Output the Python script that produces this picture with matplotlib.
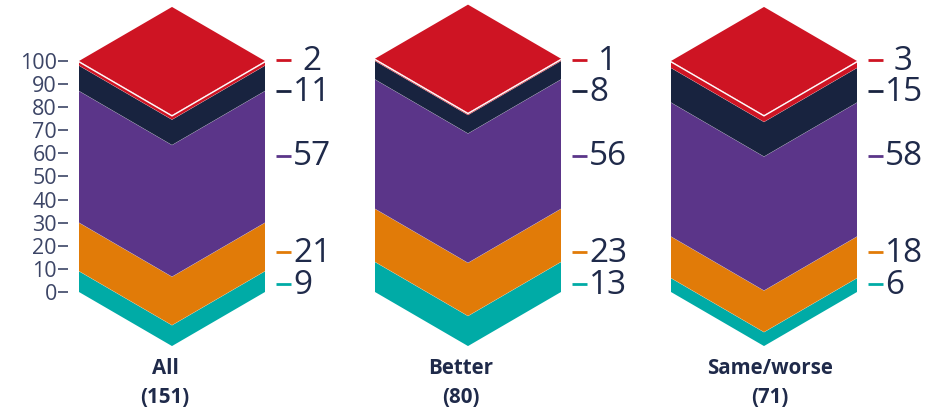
import matplotlib
matplotlib.use('Agg')
import matplotlib.pyplot as plt
from matplotlib.patches import Polygon

plt.rcParams['font.family'] = ['Open Sans', 'DejaVu Sans']

cat_names = ['All', 'Better', 'Same/worse']
cat_counts = ['(151)', '(80)', '(71)']
teal_vals = [9, 13, 6]
orange_vals = [21, 23, 18]
purple_vals = [57, 56, 58]
navy_vals = [11, 8, 15]
red_vals = [2, 1, 3]
y_ticks = [0, 10, 20, 30, 40, 50, 60, 70, 80, 90, 100]

series = [teal_vals, orange_vals, purple_vals, navy_vals, red_vals]
colors = ['#00ABA6', '#E17B08', '#5B3589', '#18233F', '#CE1423']
text_col = '#1F2A4A'
tick_col = '#3C4566'

bar_left = [79, 375, 671]
bar_w = 186
depth = 23.4  # v shape drop, in value units
label_y = [3.5, 17.3, 59, 87, 100.4]  # manual label heights, same on every bar
cat_shift = [-7, -7, 6]

fig = plt.figure(figsize=(9.37, 4.11), dpi=100)
ax = fig.add_axes([0, 0, 1, 1])
ax.set_xlim(0, 937)
ax.set_ylim((292 - 411) / 2.31, 292 / 2.31)
ax.axis('off')

for i, x0 in enumerate(bar_left):
    x1 = x0 + bar_w
    xc = x0 + bar_w / 2
    bottom = 0
    for vals, col in zip(series, colors):
        top = bottom + vals[i]
        pts = [(x0, bottom), (xc, bottom - depth), (x1, bottom), (x1, top), (xc, top - depth), (x0, top)]
        ax.add_patch(Polygon(pts, closed=True, fc=col, ec='none', zorder=2))
        if bottom > 0:
            ax.plot([x0, xc, x1], [bottom, bottom - depth, bottom], color='white', lw=0.3, alpha=0.4, zorder=3)
        bottom = top

    # top face of the stack
    ax.add_patch(Polygon([(x0, bottom), (xc, bottom + depth), (x1, bottom), (xc, bottom - depth)],
                         closed=True, fc=colors[-1], ec='none', zorder=4))
    ax.plot([x0, xc, x1], [bottom - 0.35, bottom - depth - 0.35, bottom - 0.35], color='white', lw=1.0, zorder=5)

    # value labels with coloured dashes
    for j, (vals, col) in enumerate(zip(series, colors)):
        ly = label_y[j]
        ax.plot([x1 + 11, x1 + 26], [ly, ly], color=col, lw=2, solid_capstyle='butt', zorder=3)
        tx = x1 + 28
        if j == 4:
            tx = x1 + 37
        ax.text(tx, ly + 1.2, str(vals[i]), color=text_col, fontsize=24, ha='left', va='center_baseline')

    ax.text(xc + cat_shift[i], -33, cat_names[i], color=text_col, fontsize=14.8, fontweight='bold',
            ha='center', va='center')
    ax.text(xc + cat_shift[i], -45.8, cat_counts[i], color=text_col, fontsize=14.8, fontweight='bold',
            ha='center', va='center')

for t in y_ticks:
    ax.text(57, t, str(t), color=tick_col, fontsize=15.5, ha='right', va='center_baseline')
    ax.plot([58, 68], [t, t], color=tick_col, lw=1.2, solid_capstyle='butt')

fig.savefig('out.png', dpi=100)
